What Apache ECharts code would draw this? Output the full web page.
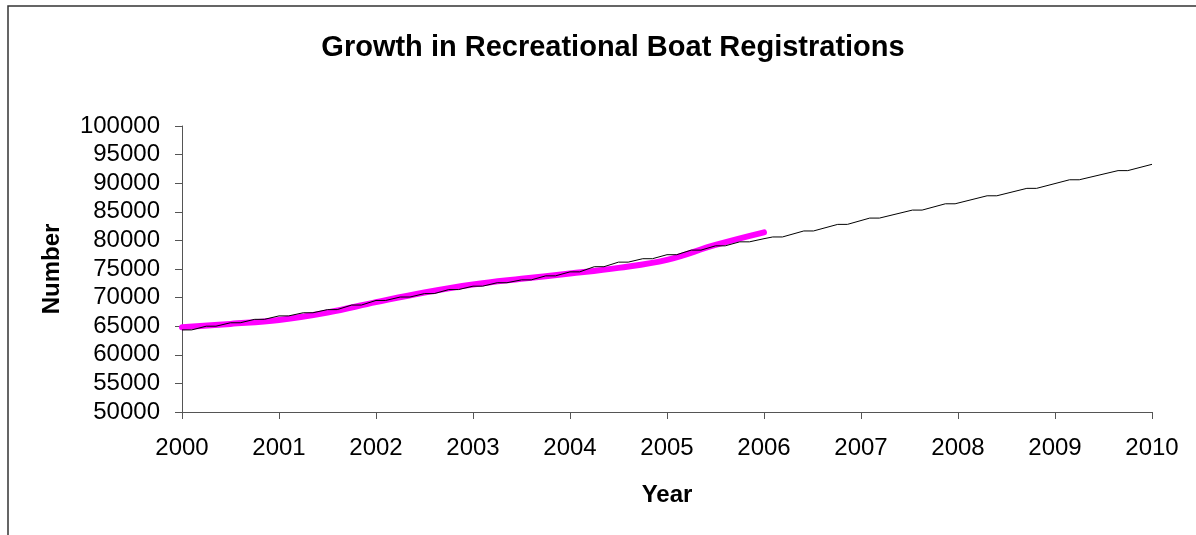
<!DOCTYPE html>
<html>
<head>
<meta charset="utf-8">
<script src="https://cdn.jsdelivr.net/npm/echarts@6/dist/echarts.min.js"></script>
<style>
html,body{margin:0;padding:0;background:#fff;}
#chart{width:1196px;height:535px;}
</style>
</head>
<body>
<div id="chart"></div>
<script>
// ---- data ----
var chartTitle = 'Growth in Recreational Boat Registrations';
var xAxisName = 'Year';
var yAxisName = 'Number';

// black line (registrations, actual + projection), x in years
var blackYears = [
  2000, 2000.1, 2000.25, 2000.35, 2000.5, 2000.6, 2000.75, 2000.85,
  2001, 2001.1, 2001.25, 2001.35, 2001.5, 2001.6, 2001.75, 2001.85,
  2002, 2002.1, 2002.25, 2002.35, 2002.5, 2002.6, 2002.75, 2002.85,
  2003, 2003.1, 2003.25, 2003.35, 2003.5, 2003.6, 2003.75, 2003.85,
  2004, 2004.1, 2004.25, 2004.35, 2004.5, 2004.6, 2004.75, 2004.85,
  2005, 2005.1, 2005.25, 2005.35, 2005.5, 2005.6, 2005.75, 2005.85,
  2006,
  2006.09, 2006.19, 2006.41, 2006.51, 2006.76, 2006.86,
  2007.09, 2007.19, 2007.53, 2007.63, 2007.87, 2007.97,
  2008.30, 2008.40, 2008.71, 2008.81,
  2009.15, 2009.25, 2009.65, 2009.75,
  2010
];
var blackValues = [
  64350, 64350, 65000, 65000, 65600, 65600, 66200, 66200,
  66800, 66800, 67350, 67350, 67900, 67900, 68700, 68700,
  69500, 69500, 70100, 70100, 70700, 70700, 71400, 71400,
  72000, 72000, 72600, 72600, 73100, 73100, 73800, 73800,
  74500, 74500, 75400, 75400, 76200, 76200, 76800, 76800,
  77500, 77500, 78300, 78300, 79050, 79050, 79750, 79750,
  80300,
  80600, 80600, 81650, 81650, 82800, 82800,
  83900, 83900, 85300, 85300, 86400, 86400,
  87800, 87800, 89100, 89100,
  90600, 90600, 92200, 92200,
  93300
];

// magenta fitted trend line
var trendYears = [2000, 2000.5, 2001, 2001.5, 2002, 2002.5, 2003, 2003.5, 2004, 2004.5, 2005, 2005.5, 2006];
var trendValues = [64800, 65400, 66100, 67400, 69200, 70900, 72300, 73300, 74200, 75200, 76600, 79200, 81400];

// axis ticks
var xTicks = [2000, 2010, 1];          // min, max, step
var yTicks = [50000, 100000, 5000];    // min, max, step

function pairs(xs, ys){ return xs.map(function(x,i){ return [x, ys[i]]; }); }

var font = 'Liberation Sans, Arial, sans-serif';
var chart = echarts.init(document.getElementById('chart'), null, {renderer:'canvas'});
chart.setOption({
  backgroundColor: '#ffffff',
  animation: false,
  title: {
    text: chartTitle,
    left: 608, top: 28, textAlign: 'center',
    textStyle: {fontFamily: font, fontSize: 29, fontWeight: 'bold', color: '#000'}
  },
  graphic: [{
    type: 'rect', silent: true,
    shape: {x: 8, y: 6, width: 1400, height: 800},
    style: {fill: 'none', stroke: '#333', lineWidth: 1.5}
  }],
  grid: {left: 182, right: 44, top: 126, bottom: 123, containLabel: false},
  xAxis: {
    type: 'value', min: xTicks[0], max: xTicks[1], interval: xTicks[2],
    name: xAxisName, nameLocation: 'middle', nameGap: 71,
    nameTextStyle: {fontFamily: font, fontSize: 24, fontWeight: 'bold', color: '#000'},
    axisLine: {lineStyle: {color: '#555', width: 1}},
    axisTick: {show: true, inside: false, length: 7, lineStyle: {color: '#555'}},
    axisLabel: {fontFamily: font, fontSize: 24, color: '#000', margin: 24,
      formatter: function(v){ return String(v); }},
    splitLine: {show: false}
  },
  yAxis: {
    type: 'value', min: yTicks[0], max: yTicks[1], interval: yTicks[2],
    name: yAxisName, nameLocation: 'middle', nameGap: 118, nameRotate: 90,
    nameTextStyle: {fontFamily: font, fontSize: 24, fontWeight: 'bold', color: '#000'},
    axisLine: {show: true, lineStyle: {color: '#555', width: 1}},
    axisTick: {show: true, inside: false, length: 7, lineStyle: {color: '#555'}},
    axisLabel: {fontFamily: font, fontSize: 24, color: '#000', margin: 22,
      formatter: function(v){ return String(v); }},
    splitLine: {show: false}
  },
  series: [
    {
      type: 'line', name: 'Registrations', data: pairs(blackYears, blackValues),
      showSymbol: false, symbol: 'none', z: 3,
      lineStyle: {color: '#000', width: 1}
    },
    {
      type: 'line', name: 'Trend', data: pairs(trendYears, trendValues),
      showSymbol: false, symbol: 'none', smooth: 0.4, z: 2,
      lineStyle: {color: '#ff00ff', width: 6, cap: 'round', join: 'round'}
    }
  ]
});
</script>
</body>
</html>
